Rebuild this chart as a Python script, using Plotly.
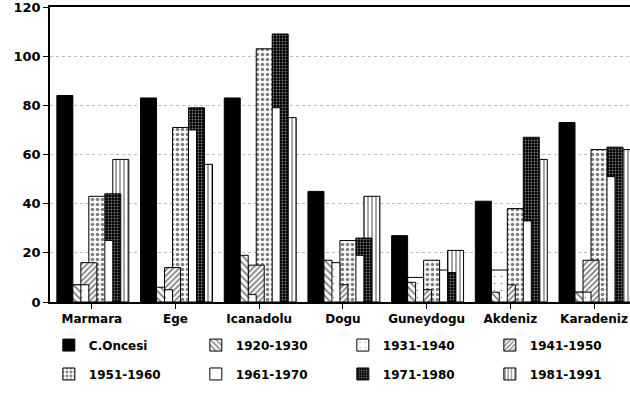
import plotly.graph_objects as go

categories = ["Marmara", "Ege", "Icanadolu", "Dogu", "Guneydogu", "Akdeniz", "Karadeniz"]
series_names = ["C.Oncesi", "1920-1930", "1931-1940", "1941-1950",
                "1951-1960", "1961-1970", "1971-1980", "1981-1991"]

c_oncesi = [84, 83, 83, 45, 27, 41, 73]
y1920_1930 = [7, 6, 19, 17, 8, 4, 4]
y1931_1940 = [7, 5, 3, 16, 10, 13, 4]
y1941_1950 = [16, 14, 15, 7, 5, 7, 17]
y1951_1960 = [43, 71, 103, 25, 17, 38, 62]
y1961_1970 = [25, 70, 79, 19, 13, 33, 51]
y1971_1980 = [44, 79, 109, 26, 12, 67, 63]
y1981_1991 = [58, 56, 75, 43, 21, 58, 62]

series_values = [c_oncesi, y1920_1930, y1931_1940, y1941_1950,
                 y1951_1960, y1961_1970, y1971_1980, y1981_1991]

styles = [
    dict(color="black", pattern=dict(shape="")),
    dict(color="white", pattern=dict(shape="\\", fgcolor="black", bgcolor="white", size=5, solidity=0.35)),
    dict(color="white", pattern=dict(shape=".", fgcolor="black", bgcolor="white", size=7, solidity=0.04)),
    dict(color="white", pattern=dict(shape="/", fgcolor="black", bgcolor="white", size=4, solidity=0.45)),
    dict(color="white", pattern=dict(shape=".", fgcolor="black", bgcolor="white", size=5, solidity=0.4)),
    dict(color="white", pattern=dict(shape="")),
    dict(color="black", pattern=dict(shape=".", fgcolor="white", bgcolor="black", size=3, solidity=0.3)),
    dict(color="white", pattern=dict(shape="|", fgcolor="black", bgcolor="white", size=4, solidity=0.35)),
]

bar_w = 0.191
step = 0.0955
first_off = -0.418

fig = go.Figure()
# later series are drawn first so that earlier series sit in front
for i in reversed(range(len(series_names))):
    st = styles[i]
    fig.add_trace(go.Bar(
        x=categories,
        y=series_values[i],
        name=series_names[i],
        width=bar_w,
        offset=first_off + i * step,
        marker=dict(color=st["color"], pattern=st["pattern"],
                    line=dict(color="black", width=1)),
        legend="legend" if i < 4 else "legend2",
        legendrank=i,
    ))

font_main = dict(family="DejaVu Sans", size=12, color="black", weight="bold")

fig.update_layout(
    width=630, height=413,
    margin=dict(l=50, r=0, t=7, b=111, autoexpand=False),
    barmode="overlay",
    plot_bgcolor="white",
    paper_bgcolor="white",
    font=font_main,
    legend=dict(orientation="h", x=-0.002, xanchor="left", y=-0.146, yanchor="middle",
                entrywidth=102, entrywidthmode="pixels", font=font_main,
                bgcolor="rgba(0,0,0,0)"),
    legend2=dict(orientation="h", x=-0.002, xanchor="left", y=-0.244, yanchor="middle",
                 entrywidth=102, entrywidthmode="pixels", font=font_main,
                 bgcolor="rgba(0,0,0,0)"),
)

fig.update_xaxes(
    range=[-0.5, 6.43], automargin=False,
    showline=True, linecolor="black", linewidth=1.5, mirror=True,
    ticks="outside", ticklen=5, tickcolor="black",
    showgrid=False, ticklabeloverflow="allow",
    tickfont=dict(family="DejaVu Sans", size=12, color="black", weight="bold"),
)
fig.update_yaxes(
    range=[0, 120], dtick=20, automargin=False,
    showline=True, linecolor="black", linewidth=1.5,
    ticks="outside", ticklen=5, tickcolor="black",
    showgrid=True, gridcolor="#bbbbbb", griddash="dot", gridwidth=1,
    zeroline=False, ticklabeloverflow="allow",
    tickfont=dict(family="DejaVu Sans", size=13, color="black", weight="bold"),
)

fig.write_html("out.html", config={"displayModeBar": False},
               post_script="document.body.style.margin='0';")
